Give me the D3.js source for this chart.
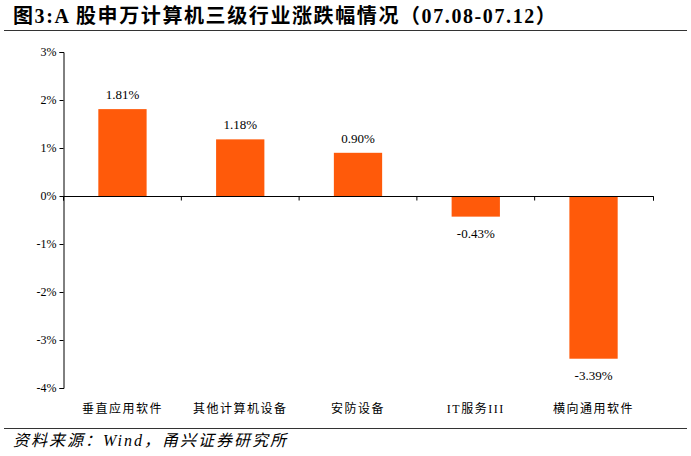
<!DOCTYPE html>
<html><head><meta charset="utf-8">
<script src="https://cdn.jsdelivr.net/npm/d3@7.9.0/dist/d3.min.js"></script>
<style>
body{margin:0;background:#fff;}
svg text{font-family:"Liberation Serif","Noto Sans CJK SC",serif;}
</style></head>
<body>
<svg width="691" height="456"></svg>
<script>
const categories = ['垂直应用软件', '其他计算机设备', '安防设备', 'IT服务III', '横向通用软件'];
const values = [1.81, 1.18, 0.90, -0.43, -3.39];
const tickValues = [3, 2, 1, 0, -1, -2, -3, -4];

const svg = d3.select('svg');

// title and rules
svg.append('text').attr('x', 13).attr('y', 23)
  .attr('font-size', 20).attr('font-weight', 'bold').attr('fill', '#000')
  .attr('letter-spacing', 1.6)
  .text('图3:A 股申万计算机三级行业涨跌幅情况（07.08-07.12）');
svg.append('line').attr('x1', 4).attr('x2', 687).attr('y1', 30.5).attr('y2', 30.5)
  .attr('stroke', '#333').attr('stroke-width', 1);
svg.append('line').attr('x1', 4).attr('x2', 687).attr('y1', 428.5).attr('y2', 428.5)
  .attr('stroke', '#333').attr('stroke-width', 1);
svg.append('text').attr('x', 13).attr('y', 446)
  .attr('font-size', 16).attr('font-style', 'italic').attr('fill', '#000')
  .attr('letter-spacing', 2)
  .text('资料来源：Wind，甬兴证券研究所');

// scales
let x = d3.scaleBand().domain(categories).range([63, 653]).paddingInner(0.59).paddingOuter(0.3);
let y = d3.scaleLinear().domain([-4, 3]).range([388, 52]);

// y axis
let yAxis = svg.append('g').attr('transform', 'translate(63.5,0)')
  .call(d3.axisLeft(y).tickValues(tickValues).tickSize(4).tickFormat(d => d + '%'));
yAxis.select('.domain').attr('stroke', '#000');
yAxis.selectAll('line').attr('stroke', '#000');
yAxis.selectAll('text').attr('font-size', 12).attr('fill', '#000')
  .attr('font-family', '"Liberation Serif",serif');

// bars
svg.selectAll('rect.bar').data(values).join('rect')
  .attr('class', 'bar')
  .attr('x', (d, i) => x(categories[i]))
  .attr('width', x.bandwidth())
  .attr('y', d => y(Math.max(0, d)))
  .attr('height', d => Math.abs(y(d) - y(0)))
  .attr('fill', '#FF5A0A');

// zero axis
let xAxis = svg.append('g').attr('transform', `translate(0,${y(0) + 0.5})`)
  .call(d3.axisBottom(x).tickSize(4).tickFormat(''));
xAxis.select('.domain').attr('stroke', '#000').attr('d', `M63.5,4V0H653.5V4`);
xAxis.selectAll('.tick').attr('transform', (d, i) => `translate(${x(categories[i]) - x.step() * x.paddingInner() / 2},0)`);
xAxis.selectAll('line').attr('stroke', '#000');
xAxis.append('line').attr('x1', 653.5).attr('x2', 653.5).attr('y1', 0).attr('y2', 4).attr('stroke', '#000');

// value labels
svg.selectAll('text.val').data(values).join('text')
  .attr('class', 'val')
  .attr('x', (d, i) => x(categories[i]) + x.bandwidth() / 2)
  .attr('y', d => d >= 0 ? y(d) - 10 : y(d) + 21)
  .attr('text-anchor', 'middle').attr('font-size', 13).attr('fill', '#000')
  .text(d => d.toFixed(2) + '%');

// category labels
svg.selectAll('text.cat').data(categories).join('text')
  .attr('class', 'cat')
  .attr('x', d => x(d) + x.bandwidth() / 2)
  .attr('y', 413)
  .attr('text-anchor', 'middle').attr('font-size', 12).attr('fill', '#000')
  .attr('letter-spacing', 1.5)
  .text(d => d);
</script>
</body></html>
